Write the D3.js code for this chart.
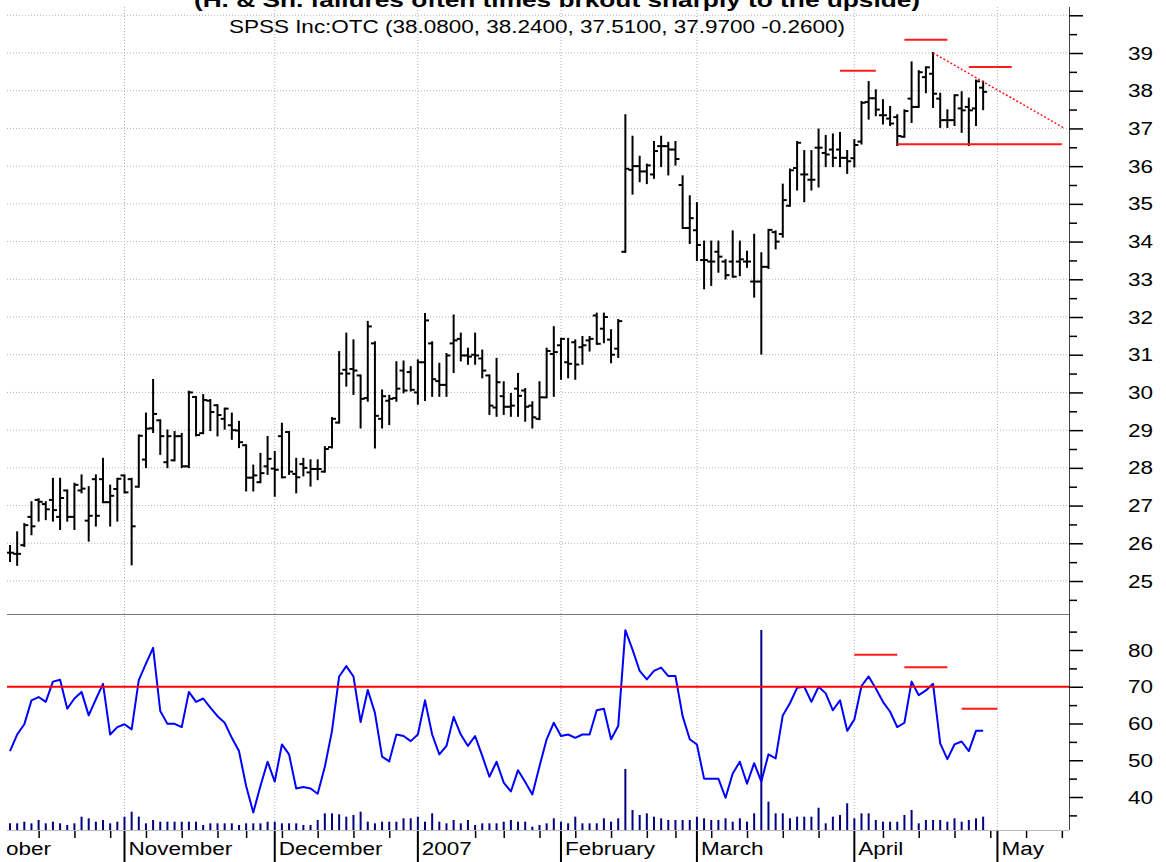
<!DOCTYPE html>
<html>
<head>
<meta charset="utf-8">
<script src="https://cdn.jsdelivr.net/npm/d3@7"></script>
<style>
  body { margin: 0; background: #fff; }
  svg { display: block; font-family: Arial, "Liberation Sans", sans-serif; }
</style>
</head>
<body>
<div id="chart"></div>
<script>
// daily bars, first bar = index 0
var opens = [25.75, 25.72, 25.95, 26.70, 27.15, 27.04, 27.15, 26.70, 27.40, 26.70,
  27.40, 26.60, 27.70, 27.70, 27.09, 27.44, 27.80, 27.70, 27.50, 28.22,
  29.05, 29.26, 28.15, 28.20, 28.84, 28.04, 29.88, 28.92, 29.78, 29.66,
  29.30, 29.13, 28.99, 28.60, 27.74, 27.62, 28.04, 27.98, 28.84, 28.95,
  27.84, 28.10, 27.88, 27.97, 27.90, 28.55, 29.20, 30.60, 30.62, 30.45,
  29.85, 31.30, 29.30, 29.78, 29.85, 30.58, 30.54, 30.00, 30.80, 31.30,
  30.30, 30.20, 31.30, 31.42, 30.98, 31.00, 30.90, 30.45, 29.60, 29.90,
  29.62, 30.10, 30.05, 29.65, 29.30, 29.87, 31.02, 31.25, 30.80, 31.33,
  31.20, 31.38, 32.04, 31.69, 31.40, 31.16, 33.73, 35.90, 36.00, 35.86,
  35.78, 36.53, 36.53, 36.44, 35.50, 34.36, 34.30, 33.51, 33.47, 33.73,
  33.47, 33.47, 33.47, 33.47, 32.94, 32.94, 33.33, 34.25, 34.20, 34.95,
  35.95, 35.78, 35.64, 36.49, 36.35, 36.44, 36.44, 36.22, 36.21, 36.65,
  37.70, 37.80, 37.35, 37.26, 37.30, 36.78, 37.79, 37.57, 38.36, 38.45,
  37.79, 37.22, 37.22, 37.53, 37.57, 37.53, 38.08];
var highs = [25.93, 26.29, 26.51, 27.09, 27.17, 27.09, 27.71, 27.71, 27.40, 27.58,
  27.80, 27.49, 27.80, 28.24, 27.53, 27.71, 27.80, 27.71, 28.86, 29.44,
  30.33, 29.26, 28.99, 28.95, 28.90, 30.02, 29.88, 29.93, 29.80, 29.66,
  29.57, 29.44, 29.22, 28.60, 28.06, 28.37, 28.82, 28.42, 29.17, 28.95,
  28.24, 28.24, 28.20, 28.20, 28.55, 29.32, 31.07, 31.56, 31.38, 30.45,
  31.87, 31.33, 30.05, 29.91, 30.80, 30.82, 30.67, 30.85, 32.08, 31.33,
  30.76, 31.02, 32.04, 31.56, 31.16, 31.56, 31.11, 30.45, 30.89, 30.27,
  29.96, 30.49, 30.09, 29.74, 30.27, 31.16, 31.73, 31.42, 31.42, 31.38,
  31.47, 31.47, 32.09, 32.09, 31.65, 31.92, 37.35, 36.78, 36.25, 36.04,
  36.64, 36.78, 36.62, 36.64, 35.73, 35.20, 35.02, 34.00, 34.00, 34.00,
  33.51, 34.27, 34.00, 33.73, 34.18, 33.69, 34.31, 34.27, 35.51, 35.91,
  36.64, 36.40, 36.40, 36.97, 36.80, 36.84, 36.88, 36.40, 36.69, 37.70,
  38.23, 38.01, 37.75, 37.57, 37.35, 37.48, 38.75, 38.52, 38.62, 39.00,
  37.92, 37.48, 37.88, 37.96, 37.79, 38.27, 38.24];
var lows = [25.53, 25.43, 25.93, 26.24, 26.60, 26.64, 26.60, 26.38, 26.60, 26.38,
  27.35, 26.07, 26.47, 27.09, 26.47, 26.60, 27.35, 25.44, 27.50, 28.02,
  28.95, 28.37, 28.02, 28.20, 28.02, 28.02, 28.86, 28.92, 29.00, 28.86,
  29.04, 28.77, 28.55, 27.40, 27.40, 27.62, 27.84, 27.26, 27.75, 27.84,
  27.35, 27.80, 27.53, 27.70, 27.90, 28.54, 29.20, 30.18, 29.96, 29.07,
  29.78, 28.54, 29.07, 29.16, 29.78, 30.00, 30.05, 29.70, 29.80, 29.91,
  29.91, 29.91, 30.54, 30.85, 30.76, 30.76, 30.40, 29.43, 29.38, 29.43,
  29.38, 29.38, 29.25, 29.07, 29.29, 29.87, 29.91, 30.36, 30.40, 30.36,
  30.76, 31.11, 31.29, 31.33, 30.80, 30.94, 33.73, 35.27, 35.60, 35.55,
  35.69, 36.00, 35.78, 36.04, 34.36, 33.96, 33.51, 32.76, 32.85, 33.20,
  33.02, 33.07, 33.11, 33.33, 32.54, 31.03, 33.30, 33.82, 34.13, 34.95,
  35.38, 35.07, 35.38, 35.46, 36.00, 36.00, 36.00, 35.82, 35.99, 36.60,
  37.26, 37.35, 37.13, 37.09, 36.56, 36.78, 37.17, 37.57, 37.96, 37.57,
  37.04, 37.04, 37.09, 36.91, 36.56, 37.09, 37.51];
var closes = [25.75, 25.72, 26.48, 26.45, 27.10, 26.90, 26.88, 27.20, 26.70, 27.55,
  27.45, 26.73, 26.73, 27.09, 27.26, 27.71, 27.35, 26.45, 28.85, 29.04,
  29.43, 28.84, 28.84, 28.84, 28.04, 30.00, 28.87, 29.80, 29.48, 29.40,
  29.57, 29.00, 28.68, 27.74, 27.80, 27.86, 28.24, 27.95, 27.75, 27.90,
  27.75, 28.00, 27.97, 27.97, 28.50, 29.30, 30.50, 30.50, 30.58, 29.83,
  31.75, 29.38, 29.90, 29.83, 30.10, 30.05, 30.07, 30.80, 31.91, 30.35,
  30.20, 30.98, 31.38, 30.98, 30.95, 30.98, 30.58, 29.65, 30.27, 29.62,
  29.65, 29.91, 29.62, 29.34, 29.87, 31.10, 31.07, 31.42, 30.76, 30.74,
  31.25, 31.42, 31.29, 32.00, 31.00, 31.89, 35.93, 36.00, 35.86, 36.02,
  36.40, 36.53, 36.44, 36.19, 34.36, 34.62, 33.91, 33.51, 33.47, 33.60,
  33.11, 33.07, 33.53, 33.47, 32.94, 33.33, 34.31, 34.00, 35.10, 35.89,
  36.62, 35.78, 35.64, 36.49, 36.31, 36.22, 36.22, 36.13, 36.56, 37.68,
  37.80, 37.50, 37.35, 37.13, 36.80, 37.46, 37.57, 38.49, 38.62, 37.92,
  37.22, 37.22, 37.88, 37.48, 37.48, 38.25, 37.97];
// volume, thousands of shares
var volumes = [167, 167, 208, 167, 250, 167, 208, 167, 125, 167,
  333, 292, 208, 250, 167, 208, 333, 458, 333, 167,
  250, 208, 208, 208, 208, 208, 208, 125, 167, 167,
  167, 167, 125, 167, 167, 167, 208, 208, 167, 167,
  167, 125, 125, 250, 417, 417, 392, 333, 375, 458,
  208, 167, 208, 208, 208, 292, 292, 333, 208, 417,
  208, 167, 250, 167, 250, 125, 167, 167, 167, 208,
  250, 208, 208, 83, 125, 167, 292, 208, 167, 333,
  167, 167, 167, 292, 208, 292, 1525, 500, 375, 417,
  333, 292, 250, 250, 250, 250, 333, 292, 250, 250,
  292, 208, 292, 208, 417, 5000, 708, 417, 417, 292,
  333, 333, 333, 558, 167, 333, 375, 667, 292, 417,
  417, 250, 208, 208, 208, 375, 500, 167, 250, 250,
  250, 208, 292, 208, 250, 292, 333];
var rsi = [52.5, 57.0, 59.8, 66.3, 67.2, 65.9, 71.4, 71.9, 64.0, 66.8,
  68.6, 62.2, 66.6, 70.8, 57.0, 59.0, 59.8, 58.4, 71.8, 76.3,
  80.6, 63.4, 59.9, 59.9, 59.0, 68.6, 65.9, 66.8, 64.3, 62.0,
  60.2, 56.1, 52.5, 43.0, 35.8, 43.0, 49.6, 44.2, 54.3, 51.6,
  42.3, 42.7, 42.3, 40.9, 48.2, 58.0, 72.8, 75.6, 72.8, 60.4,
  69.1, 62.9, 51.0, 49.7, 57.0, 56.6, 55.2, 57.0, 66.3, 57.0,
  51.6, 53.9, 61.8, 57.0, 53.9, 56.6, 51.2, 45.5, 49.6, 43.9,
  41.5, 47.3, 44.1, 40.7, 48.4, 55.7, 60.2, 56.6, 57.0, 56.1,
  57.0, 57.0, 63.6, 64.0, 55.7, 59.3, 85.4, 80.1, 74.3, 72.0,
  74.3, 75.2, 72.9, 72.9, 62.0, 55.7, 54.3, 45.0, 45.0, 45.0,
  39.8, 46.4, 49.6, 43.6, 49.2, 44.2, 51.6, 50.5, 62.2, 65.5,
  69.7, 70.0, 65.9, 70.0, 68.2, 63.6, 66.3, 58.0, 61.1, 70.2,
  72.8, 69.5, 65.9, 63.2, 59.0, 60.2, 71.4, 67.7, 69.0, 70.8,
  54.6, 50.3, 54.3, 55.1, 52.5, 58.0, 58.0];

var months = ["October", "November", "December", "2007", "February", "March", "April", "May"];
var monthStarts = [-6, 16, 37, 57, 77, 96, 118, 138];
var weekStarts = [4, 9, 14, 19, 24, 29, 33, 38, 43, 48, 53, 65, 69, 74, 79, 84, 89, 93,
  98, 103, 108, 113, 122, 127, 132, 137, 142, 147];
var priceMajor = [25, 26, 27, 28, 29, 30, 31, 32, 33, 34, 35, 36, 37, 38, 39, 40];
var priceMinor = [24.5, 25.5, 26.5, 27.5, 28.5, 29.5, 30.5, 31.5, 32.5, 33.5, 34.5,
  35.5, 36.5, 37.5, 38.5, 39.5];
var priceLabels = [25, 26, 27, 28, 29, 30, 31, 32, 33, 34, 35, 36, 37, 38, 39];
var rsiMajor = [40, 50, 60, 70, 80];
var rsiMinor = [35, 45, 55, 65, 75, 85];
var rsiLevel = 70;

// head & shoulders markup: [from index, to index, level]
var shoulderMarks = [[116, 121, 38.53], [125, 131, 39.35], [134, 140, 38.63]];
var neckline = [124, 147, 36.58];
var trendline = [[129, 39.0], [147.3, 37.01]];
var rsiMarks = [[118, 124, 78.7], [125, 131, 75.3], [133, 138, 64.0]];

var title = "(H. & Sh. failures often times brkout sharply to the upside)";
var subtitle = "SPSS Inc:OTC (38.0800, 38.2400, 37.5100, 37.9700 -0.2600)";

var left = 7;
var right = 1069;
var stretch = 1.25; // the source image text is wider than it is tall

var x = d3.scaleLinear().domain([0, 148]).range([10, 1069]);
var yPrice = d3.scaleLinear().domain([25, 39]).range([581, 53]);
var yRsi = d3.scaleLinear().domain([40, 80]).range([797, 650]);
var yVol = d3.scaleLinear().domain([0, 5000]).range([830, 630]);

var svg = d3.select('#chart')
  .append('svg')
  .attr('width', 1166)
  .attr('height', 862);

svg.append('defs').append('clipPath')
  .attr('id', 'plotClip')
  .append('rect')
  .attr('x', left)
  .attr('y', 0)
  .attr('width', right - left)
  .attr('height', 862);

var plot = svg.append('g').attr('clip-path', 'url(#plotClip)');

function wideText(parent, str, tx, ty, size, anchor, weight) {
  return parent.append('text')
    .attr('transform', 'translate(' + tx + ',' + ty + ') scale(' + stretch + ',1)')
    .attr('text-anchor', anchor || 'start')
    .attr('font-size', size)
    .attr('font-weight', weight || 'normal')
    .attr('fill', '#000')
    .text(str);
}

// grid
plot.selectAll('.hgrid')
  .data(priceMajor)
  .enter()
  .append('line')
  .attr('class', 'hgrid')
  .attr('x1', left)
  .attr('x2', right)
  .attr('y1', function(d) { return yPrice(d); })
  .attr('y2', function(d) { return yPrice(d); })
  .attr('stroke', '#b4b4b4')
  .attr('stroke-dasharray', '1,2');

plot.selectAll('.vgrid')
  .data(monthStarts.slice(1))
  .enter()
  .append('line')
  .attr('class', 'vgrid')
  .attr('x1', function(d) { return x(d); })
  .attr('x2', function(d) { return x(d); })
  .attr('y1', 7)
  .attr('y2', 830)
  .attr('stroke', '#b4b4b4')
  .attr('stroke-dasharray', '1,2');

// panel separator and baseline
svg.append('line')
  .attr('x1', left).attr('x2', right)
  .attr('y1', 614.5).attr('y2', 614.5)
  .attr('stroke', '#777');
svg.append('line')
  .attr('x1', left).attr('x2', right)
  .attr('y1', 830.5).attr('y2', 830.5)
  .attr('stroke', '#bbb');

// price bars
var bars = plot.selectAll('.bar')
  .data(closes.map(function(c, i) {
    return { i: i, o: opens[i], h: highs[i], l: lows[i], c: c };
  }))
  .enter()
  .append('g')
  .attr('class', 'bar')
  .attr('stroke', '#000')
  .attr('stroke-width', 2);

bars.append('line')
  .attr('x1', function(d) { return x(d.i); })
  .attr('x2', function(d) { return x(d.i); })
  .attr('y1', function(d) { return yPrice(d.h) - 1; })
  .attr('y2', function(d) { return yPrice(d.l) + 1; });
bars.append('line')
  .attr('x1', function(d) { return x(d.i) - 4; })
  .attr('x2', function(d) { return x(d.i); })
  .attr('y1', function(d) { return yPrice(d.o); })
  .attr('y2', function(d) { return yPrice(d.o); });
bars.append('line')
  .attr('x1', function(d) { return x(d.i); })
  .attr('x2', function(d) { return x(d.i) + 4; })
  .attr('y1', function(d) { return yPrice(d.c); })
  .attr('y2', function(d) { return yPrice(d.c); });

// pattern markup
plot.selectAll('.shoulder')
  .data(shoulderMarks.concat([neckline]))
  .enter()
  .append('line')
  .attr('class', 'shoulder')
  .attr('x1', function(d) { return x(d[0]); })
  .attr('x2', function(d) { return x(d[1]); })
  .attr('y1', function(d) { return yPrice(d[2]); })
  .attr('y2', function(d) { return yPrice(d[2]); })
  .attr('stroke', '#ff1a1a')
  .attr('stroke-width', 2);

plot.append('path')
  .datum(trendline)
  .attr('d', d3.line()
    .x(function(d) { return x(d[0]); })
    .y(function(d) { return yPrice(d[1]); }))
  .attr('fill', 'none')
  .attr('stroke', '#ff1a1a')
  .attr('stroke-width', 1.5)
  .attr('stroke-dasharray', '2,2');

// volume
plot.selectAll('.vol')
  .data(volumes)
  .enter()
  .append('line')
  .attr('class', 'vol')
  .attr('x1', function(d, i) { return x(i); })
  .attr('x2', function(d, i) { return x(i); })
  .attr('y1', function(d) { return yVol(d); })
  .attr('y2', 830)
  .attr('stroke', '#000080')
  .attr('stroke-width', 2);

// rsi
plot.append('path')
  .datum(rsi)
  .attr('d', d3.line()
    .x(function(d, i) { return x(i); })
    .y(function(d) { return yRsi(d); }))
  .attr('fill', 'none')
  .attr('stroke', '#0000ff')
  .attr('stroke-width', 2)
  .attr('stroke-linejoin', 'round');

plot.append('line')
  .attr('x1', left).attr('x2', right)
  .attr('y1', yRsi(rsiLevel)).attr('y2', yRsi(rsiLevel))
  .attr('stroke', '#ff0000')
  .attr('stroke-width', 2);

plot.selectAll('.rsimark')
  .data(rsiMarks)
  .enter()
  .append('line')
  .attr('class', 'rsimark')
  .attr('x1', function(d) { return x(d[0]); })
  .attr('x2', function(d) { return x(d[1]); })
  .attr('y1', function(d) { return yRsi(d[2]); })
  .attr('y2', function(d) { return yRsi(d[2]); })
  .attr('stroke', '#ff1a1a')
  .attr('stroke-width', 2);

// bottom time axis
var timeAxis = plot.append('g')
  .attr('transform', 'translate(0,830)')
  .call(d3.axisBottom(x).tickValues(weekStarts).tickSize(8).tickFormat(''));
timeAxis.select('.domain').remove();
timeAxis.selectAll('line').attr('stroke', '#000').attr('stroke-width', 1.5);

plot.selectAll('.mline')
  .data(monthStarts)
  .enter()
  .append('line')
  .attr('class', 'mline')
  .attr('x1', function(d) { return x(d); })
  .attr('x2', function(d) { return x(d); })
  .attr('y1', 830)
  .attr('y2', 862)
  .attr('stroke', '#000')
  .attr('stroke-width', 2);

months.forEach(function(m, i) {
  wideText(plot, m, x(monthStarts[i]) + 4, 855, 18);
});

// right axes
svg.append('line')
  .attr('x1', right + 0.5).attr('x2', right + 0.5)
  .attr('y1', 7).attr('y2', 830)
  .attr('stroke', '#444');

function tickAxis(scale, values, size) {
  var g = svg.append('g')
    .attr('transform', 'translate(' + right + ',0)')
    .call(d3.axisRight(scale).tickValues(values).tickSize(size).tickFormat(''));
  g.select('.domain').remove();
  g.selectAll('line').attr('stroke', '#000').attr('stroke-width', 1.5);
  return g;
}
tickAxis(yPrice, priceMajor, 14);
tickAxis(yPrice, priceMinor, 8);
tickAxis(yRsi, rsiMajor, 14);
tickAxis(yRsi, rsiMinor, 8);

priceLabels.forEach(function(v) {
  wideText(svg, v, 1128, yPrice(v) + 6.5, 18);
});
rsiMajor.forEach(function(v) {
  wideText(svg, v, 1128, yRsi(v) + 6.5, 18);
});

// titles
wideText(svg, title, 557, 7, 21, 'middle', 'bold');
wideText(svg, subtitle, 537, 33, 18, 'middle');
</script>
</body>
</html>
